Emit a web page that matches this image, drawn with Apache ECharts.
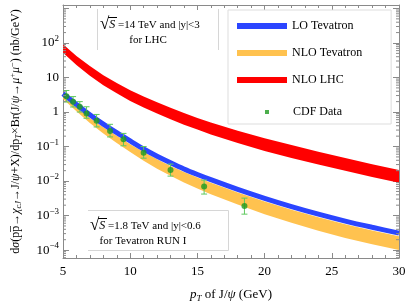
<!DOCTYPE html>
<html><head><meta charset="utf-8">
<script src="https://cdn.jsdelivr.net/npm/echarts@6/dist/echarts.min.js"></script>
<style>html,body{margin:0;padding:0;background:#fff}#c{width:409px;height:308px}</style>
</head><body><div id="c"></div>
<script>
// ---- data ----
const pT = [5,6,7,8,9,10,11,12,13,14,15,16,18,20,22,24,26,28,30];
const loTevatron = [3.39,1.66,0.832,0.447,0.251,0.145,0.0851,0.0525,0.0339,0.0224,0.0155,0.0110,0.00575,0.00316,0.00182,0.00110,0.000692,0.000457,0.000309];
const nloTevUpper = [2.75,1.35,0.676,0.363,0.204,0.117,0.0692,0.0427,0.0275,0.0182,0.0126,0.00891,0.00468,0.00257,0.00148,0.000891,0.000562,0.000372,0.000251];
const nloTevLower = [2.40,1.05,0.479,0.240,0.126,0.0692,0.0389,0.0229,0.0143,0.00912,0.00610,0.00417,0.00209,0.00110,0.000617,0.000363,0.000224,0.000148,0.000100];
const nloLhcUpper = [91.2,41.7,21.4,11.7,6.9,4.27,2.82,1.91,1.32,0.93,0.676,0.50,0.288,0.174,0.110,0.0708,0.0468,0.0309,0.0209];
const nloLhcLower = [52.5,22.9,11.2,6.0,3.47,2.09,1.35,0.91,0.617,0.427,0.309,0.224,0.126,0.0741,0.0468,0.0302,0.020,0.0132,0.0089];
const cdfPt   = [5.25,5.75,6.25,6.75,7.5,8.5,9.5,11,13,15.5,18.5];
const cdfVal  = [2.88,2.0,1.41,0.91,0.56,0.28,0.162,0.066,0.021,0.0069,0.0019];
const cdfLow  = [1.95,1.4,1.0,0.66,0.37,0.19,0.105,0.046,0.0139,0.0042,0.0011];
const cdfHigh = [4.2,2.8,2.0,1.42,0.85,0.44,0.24,0.10,0.031,0.0107,0.0032];
const xMin = 5, xMax = 30, xStep = 5;
const yMin = 5.9e-5, yMax = 1260;
const legendNames = ['LO Tevatron','NLO Tevatron','NLO LHC','CDF Data'];

const serif = "'Liberation Serif','Times New Roman',serif";
const C_BLUE = '#2b45ff', C_ORANGE = '#ffc24f', C_RED = '#ff0000', C_GREEN = '#1f9a1f', C_BAR = '#5fc95f';
const AX = '#8a8a8a';

// minor log ticks 2..9 x 10^k
const yMinor = [];
for (let k = -5; k <= 3; k++) for (let m = 2; m <= 9; m++) { const v = m * Math.pow(10, k); if (v > yMin && v < yMax) yMinor.push(v); }

const pairs = (xs, ys) => xs.map((x, i) => [x, ys[i]]);

const chart = echarts.init(document.getElementById('c'), null, {renderer: 'canvas'});

function yLabel(v) {
  const l = Math.log10(v), e = Math.round(l);
  if (Math.abs(l - e) > 1e-6 || e > 2) return '';
  if (e === 0) return '{b|1}';
  if (e === 1) return '{b|10}';
  return '{b|10}{s|' + (e < 0 ? '\u2212' + (-e) : e) + '}';
}
const yRich = { b: {fontSize: 13, fontFamily: serif, color: '#000'}, s: {fontSize: 9, fontFamily: serif, color: '#000', padding: [0, 0, 8, 0]} };

const yName = '{n|d}{i|σ}{n|(pp\u0305→}{i|χ}{sub|cJ}{n|→J/}{i|ψ}{n|+X)/dp}{sub|T}{n|×Br(J/}{i|ψ}{n|→}{i|μ}{sup|+}{i|μ}{sup|−}{n|) (nb/GeV)}';
const xName = '{i|p}{sub|T}{n| of J/}{i|ψ}{n| (GeV)}';

// band drawn as polygon through the library's coordinate system
function bandSeries(name, upper, lower, color, z) {
  return {
    name: name, type: 'custom', z: z, color: color, data: [[pT[0], upper[0]]],
    renderItem: (params, api) => {
      const pts = [];
      for (let i = 0; i < pT.length; i++) pts.push(api.coord([pT[i], upper[i]]));
      for (let i = pT.length - 1; i >= 0; i--) pts.push(api.coord([pT[i], lower[i]]));
      return {type: 'polygon', shape: {points: pts}, style: {fill: color, stroke: null}};
    }
  };
}

const option = {
  animation: false,
  backgroundColor: '#fff',
  grid: {left: 59, right: 10, top: 5, bottom: 50, containLabel: false},
  xAxis: [{
    type: 'value', min: xMin, max: xMax, interval: xStep, position: 'bottom',
    axisLine: {lineStyle: {color: AX, width: 1}},
    axisTick: {inside: true, length: 5, lineStyle: {color: AX}},
    minorTick: {show: true, splitNumber: 5, length: 3, lineStyle: {color: AX}},
    splitLine: {show: false},
    axisLabel: {fontSize: 13, fontFamily: serif, color: '#000', margin: 7},
    name: xName, nameLocation: 'middle', nameGap: 29,
    nameTextStyle: {rich: {
      n: {fontSize: 13, fontFamily: serif, color: '#000'},
      i: {fontSize: 13, fontFamily: serif, fontStyle: 'italic', color: '#000'},
      sub: {fontSize: 9, fontFamily: serif, fontStyle: 'italic', color: '#000', padding: [7, 0, 0, 0]}
    }}
  }, {
    type: 'value', min: xMin, max: xMax, interval: xStep, position: 'top',
    axisLine: {lineStyle: {color: AX, width: 1}},
    axisTick: {inside: true, length: 5, lineStyle: {color: AX}},
    minorTick: {show: true, splitNumber: 5, length: 3, lineStyle: {color: AX}},
    splitLine: {show: false}, axisLabel: {show: false}
  }],
  yAxis: [{
    type: 'log', min: yMin, max: yMax, logBase: 10, position: 'left',
    axisLine: {lineStyle: {color: AX, width: 1}},
    axisTick: {inside: true, length: 6, lineStyle: {color: AX}},
    splitLine: {show: false},
    axisLabel: {formatter: yLabel, rich: yRich, margin: 4, showMinLabel: false, showMaxLabel: false},
    name: yName, nameLocation: 'middle', nameRotate: 90, nameGap: 40,
    nameTextStyle: {rich: {
      n: {fontSize: 12, fontFamily: serif, color: '#000'},
      i: {fontSize: 12, fontFamily: serif, fontStyle: 'italic', color: '#000'},
      sub: {fontSize: 8.5, fontFamily: serif, fontStyle: 'italic', color: '#000', padding: [6, 0, 0, 0]},
      sup: {fontSize: 8.5, fontFamily: serif, color: '#000', padding: [0, 0, 6, 0]}
    }}
  }, {
    type: 'log', min: yMin, max: yMax, logBase: 10, position: 'right',
    axisLine: {lineStyle: {color: AX, width: 1}},
    axisTick: {inside: true, length: 6, lineStyle: {color: AX}},
    splitLine: {show: false}, axisLabel: {show: false}
  }],
  legend: [{
    data: legendNames.slice(0, 3), orient: 'vertical', left: 228, top: 10,
    icon: 'rect', itemWidth: 50, itemHeight: 6, itemGap: 15,
    padding: [10, 29, 38, 9], borderColor: '#dddddd', borderWidth: 1,
    textStyle: {fontSize: 12, fontFamily: serif, color: '#000'},
    selectedMode: false
  }, {
    data: [legendNames[3]], orient: 'vertical', left: 265, top: 106,
    icon: 'rect', itemWidth: 4, itemHeight: 4, padding: 0,
    formatter: n => '{a|' + n + '}',
    textStyle: {fontSize: 12, fontFamily: serif, color: '#000', rich: {a: {fontSize: 12, fontFamily: serif, color: '#000', padding: [0, 0, 0, 19]}}},
    selectedMode: false
  }],
  series: [
    bandSeries('NLO LHC', nloLhcUpper, nloLhcLower, C_RED, 2),
    bandSeries('NLO Tevatron', nloTevUpper, nloTevLower, C_ORANGE, 3),
    {name: 'LO Tevatron', type: 'line', data: pairs(pT, loTevatron), symbol: 'none', smooth: 0.3,
     color: C_BLUE, lineStyle: {width: 5, color: C_BLUE}, z: 4},
    {name: 'errbars', type: 'custom', z: 5, silent: true,
     data: cdfPt.map((x, i) => [x, cdfLow[i], cdfHigh[i]]),
     renderItem: (params, api) => {
       const lo = api.coord([api.value(0), api.value(1)]);
       const hi = api.coord([api.value(0), api.value(2)]);
       const w = 3;
       return {type: 'group', children: [
         {type: 'line', shape: {x1: lo[0], y1: lo[1], x2: hi[0], y2: hi[1]}, style: {stroke: C_BAR, lineWidth: 1}},
         {type: 'line', shape: {x1: lo[0] - w, y1: lo[1], x2: lo[0] + w, y2: lo[1]}, style: {stroke: C_BAR, lineWidth: 1}},
         {type: 'line', shape: {x1: hi[0] - w, y1: hi[1], x2: hi[0] + w, y2: hi[1]}, style: {stroke: C_BAR, lineWidth: 1}}
       ]};
     }},
    {name: 'CDF Data', type: 'scatter', data: pairs(cdfPt, cdfVal), symbol: 'circle', symbolSize: 6,
     color: C_GREEN, itemStyle: {color: C_GREEN}, z: 6},
    {name: 'yminor', type: 'custom', z: 7, silent: true, data: yMinor.map(v => [xMin, v]),
     renderItem: (params, api) => {
       const v = api.value(1);
       const l = api.coord([xMin, v]), r = api.coord([xMax, v]);
       return {type: 'group', children: [
         {type: 'line', shape: {x1: l[0], y1: l[1], x2: l[0] + 3, y2: l[1]}, style: {stroke: AX, lineWidth: 1}},
         {type: 'line', shape: {x1: r[0] - 3, y1: r[1], x2: r[0], y2: r[1]}, style: {stroke: AX, lineWidth: 1}}
       ]};
     }}
  ],
  graphic: [
    {type: 'line', shape: {x1: 97.5, y1: 9, x2: 97.5, y2: 50}, style: {stroke: '#d6d6d6', lineWidth: 1}, z: 10},
    {type: 'line', shape: {x1: 218.5, y1: 9, x2: 218.5, y2: 50}, style: {stroke: '#d6d6d6', lineWidth: 1}, z: 10},
    {type: 'polyline', shape: {points: [[88, 210.5], [228.5, 210.5], [228.5, 250.5], [88, 250.5]]}, style: {stroke: '#d6d6d6', lineWidth: 1, fill: null}, z: 10},
    {type: 'text', x: 100, y: 25, z: 11, style: {text: '{r|√}{s|S}{n| =14 TeV and |y|<3}', verticalAlign: 'middle',
      rich: {r: {fontSize: 17, fontFamily: serif, fill: '#000'}, s: {fontSize: 12, fontStyle: 'italic', fontFamily: serif, fill: '#000'}, n: {fontSize: 11, fontFamily: serif, fill: '#000'}}}},
    {type: 'line', shape: {x1: 108, y1: 17.5, x2: 117, y2: 17.5}, style: {stroke: '#000', lineWidth: 1}, z: 11},
    {type: 'text', x: 148, y: 40, z: 11, style: {text: 'for LHC', align: 'center', verticalAlign: 'middle', font: '11px ' + serif, fill: '#000'}},
    {type: 'text', x: 90, y: 226, z: 11, style: {text: '{r|√}{s|S}{n| =1.8 TeV and |y|<0.6}', verticalAlign: 'middle',
      rich: {r: {fontSize: 17, fontFamily: serif, fill: '#000'}, s: {fontSize: 12, fontStyle: 'italic', fontFamily: serif, fill: '#000'}, n: {fontSize: 11, fontFamily: serif, fill: '#000'}}}},
    {type: 'line', shape: {x1: 98, y1: 218.5, x2: 107, y2: 218.5}, style: {stroke: '#000', lineWidth: 1}, z: 11},
    {type: 'text', x: 143, y: 241, z: 11, style: {text: 'for Tevatron RUN I', align: 'center', verticalAlign: 'middle', font: '11px ' + serif, fill: '#000'}}
  ]
};
chart.setOption(option);
</script>
</body></html>
